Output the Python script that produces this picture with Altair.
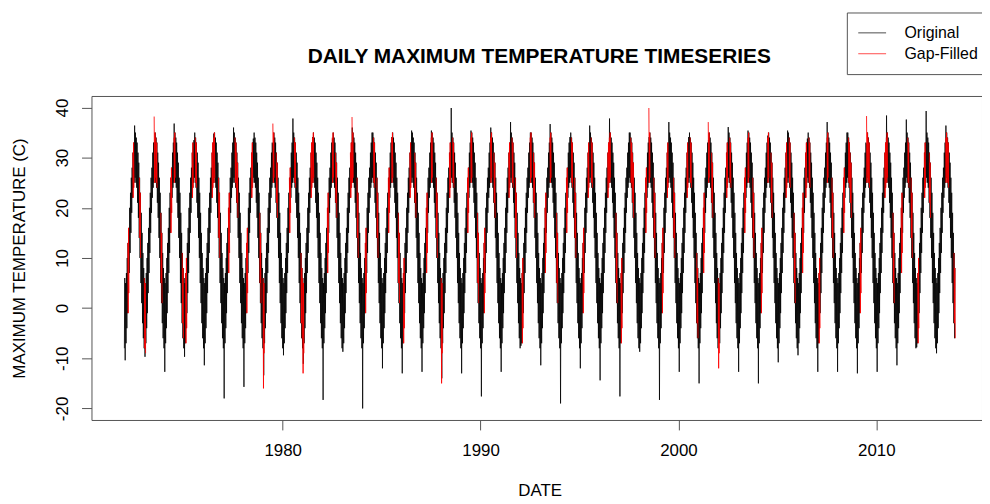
import datetime as dt
import altair as alt
import pandas as pd

TITLE = "DAILY MAXIMUM TEMPERATURE TIMESERIES"
X_TITLE = "DATE"
Y_TITLE = "MAXIMUM TEMPERATURE (C)"
SERIES = ["Original", "Gap-Filled"]
COLORS = ["#000000", "#ff0000"]

YEARS = list(range(1972, 2014))
# summer (July) maximum spike of the original series, per year
PEAK_ORIG = [36.4, 33.1, 36.8, 33.5, 34.8, 36.0, 33.8, 32.8, 37.8, 34.1,
             33.8, 36.0, 35.0, 34.1, 35.4, 35.4, 39.9, 35.4, 36.0, 37.1,
             35.0, 36.7, 34.1, 36.4, 37.8, 35.0, 34.1, 37.1, 34.1, 33.5,
             36.1, 35.4, 34.4, 35.4, 33.8, 37.1, 35.0, 32.8, 38.4, 37.6,
             39.3, 36.4]
# winter (January) minimum spike of the original series, per year
TROUGH_ORIG = [-10.4, -9.7, -12.7, -9.7, -11.4, -18.0, -15.7, -13.4, -9.4, -11.1,
               -18.3, -8.7, -20.0, -12.0, -13.0, -12.7, -14.0, -13.0, -17.6, -12.7,
               -7.5, -11.4, -19.0, -12.0, -14.4, -17.6, -8.7, -18.3, -12.7, -15.0,
               -6.0, -12.7, -15.0, -10.8, -9.4, -12.7, -12.7, -13.0, -12.7, -11.4,
               -7.8, -9.0]
# gap-filled spikes that stand out from the original (None = none visible)
PEAK_FILL = [None, 38.2, None, None, None, None, None, 36.8, None, None,
             None, 38.1, None, None, None, None, None, None, None, None,
             None, None, None, None, None, None, 39.9, None, None, 37.1,
             None, None, None, None, None, None, None, 38.3, None, None,
             None, None]
TROUGH_FILL = [None, None, None, None, None, None, None, -16.0, None, -13.0,
               None, None, None, None, None, None, -15.0, None, None, None,
               None, None, None, None, None, None, None, None, None, None,
               -12.0, None, None, None, None, None, None, None, None, None,
               None, None]
# months (1-12) where the original has gaps and the filled series shows
GAP_MONTHS = [[3, 6, 10], [1, 7, 8, 11], [5, 7, 12], [2, 6, 8], [6, 7, 10],
              [4, 8, 9], [3, 6, 11], [1, 7, 9], [5, 8, 12], [1, 6, 7],
              [4, 7, 9], [6, 7, 10], [3, 8, 10], [5, 7, 11], [2, 6, 9],
              [4, 7, 10], [1, 6, 8], [5, 7, 11], [3, 7, 9], [6, 8, 10],
              [2, 7, 9], [4, 7, 11], [5, 8, 10], [3, 6, 8], [6, 7, 11],
              [2, 8, 9], [5, 7, 10], [3, 6, 10], [6, 8, 12], [4, 7, 9],
              [1, 6, 8], [5, 7, 10], [3, 7, 9], [6, 8, 11], [4, 6, 8],
              [2, 7, 10], [5, 8, 9], [3, 7, 8], [6, 7, 11], [4, 8, 10],
              [2, 6, 9], [7, 8, 12]]
# typical upper / lower daily values in each half-month (Jan 1-15, Jan 16-31, ...)
HALF_HIGH = [6, 5, 7, 10, 13, 16, 20, 23, 26, 28, 31, 33,
             34, 35, 34, 33, 31, 29, 26, 23, 19, 15, 11, 8]
HALF_LOW = [-8, -9, -7, -4, -1, 3, 7, 11, 15, 19, 22, 24,
            25, 26, 25, 24, 21, 18, 14, 10, 5, 1, -3, -6]
DAYS_ORIG = [(1, 8), (16, 23)]
DAYS_FILL = [(4, 12), (19, 27)]
Y_TICKS = [-20, -10, 0, 10, 20, 30, 40]
X_TICK_YEARS = [1980, 1990, 2000, 2010]

FONT = "Liberation Sans, Arial, sans-serif"

orig_rows = []
fill_rows = []
for yi, yr in enumerate(YEARS):
    for h in range(24):
        m, half = divmod(h, 2)
        d_lo, d_hi = DAYS_ORIG[half]
        lo, hi = HALF_LOW[h], HALF_HIGH[h]
        if h == 1:
            lo = TROUGH_ORIG[yi]
        if h == 12:
            hi = PEAK_ORIG[yi]
        orig_rows.append({"date": dt.datetime(yr, m + 1, d_lo), "temp": lo,
                          "series": SERIES[0]})
        orig_rows.append({"date": dt.datetime(yr, m + 1, d_hi), "temp": hi,
                          "series": SERIES[0]})
    for gm in GAP_MONTHS[yi]:
        for half in range(2):
            h = 2 * (gm - 1) + half
            d_hi, d_lo = DAYS_FILL[half]
            lo, hi = HALF_LOW[h], HALF_HIGH[h]
            if h == 0 and TROUGH_FILL[yi] is not None:
                lo = TROUGH_FILL[yi]
            if h == 12 and PEAK_FILL[yi] is not None:
                hi = PEAK_FILL[yi]
            fill_rows.append({"date": dt.datetime(yr, gm, d_hi), "temp": hi,
                              "series": SERIES[1], "seg": f"{yr}-{gm}"})
            fill_rows.append({"date": dt.datetime(yr, gm, d_lo), "temp": lo,
                              "series": SERIES[1], "seg": f"{yr}-{gm}"})

orig_df = pd.DataFrame(orig_rows)
fill_df = pd.DataFrame(fill_rows)

x_scale = alt.Scale(domain=[alt.DateTime(year=1970, month=5, date=4),
                            alt.DateTime(year=2015, month=5, date=5)],
                    nice=False)
y_scale = alt.Scale(domain=[-22.3, 42.3], nice=False, zero=False)
color_scale = alt.Scale(domain=SERIES, range=COLORS)

x_enc = alt.X("date:T", scale=x_scale, title=X_TITLE,
              axis=alt.Axis(values=[alt.DateTime(year=y, month=1, date=1)
                                    for y in X_TICK_YEARS],
                            format="%Y", labelPadding=13, titleX=451,
                            titleY=76, titleBaseline="alphabetic"))
y_enc = alt.Y("temp:Q", scale=y_scale, title=Y_TITLE,
              axis=alt.Axis(values=Y_TICKS,
                            labelExpr="datum.value < 0 ? '-' + abs(datum.value) : '' + datum.value",
                            labelAngle=270, labelPadding=10,
                            titleAngle=270, titleBaseline="middle",
                            titleAlign="center", titleX=-72, titleY=163))
legend = alt.Legend(orient="none", legendX=760, legendY=-84, title=None,
                    symbolType="stroke", symbolSize=784, symbolStrokeWidth=1,
                    symbolOpacity=0.7, labelFontSize=16, labelFont=FONT,
                    labelColor="#000", labelOffset=18, padding=11,
                    clipHeight=19, rowPadding=2, strokeColor="#555",
                    fillColor="white")

orig_layer = alt.Chart(orig_df).mark_line(strokeWidth=0.8).encode(
    x=x_enc, y=y_enc,
    color=alt.Color("series:N", scale=color_scale, legend=legend),
)
fill_layer = alt.Chart(fill_df).mark_line(strokeWidth=0.9, opacity=0.95).encode(
    x=x_enc, y=y_enc,
    color=alt.Color("series:N", scale=color_scale, legend=legend),
    detail="seg:N",
)
title_layer = alt.Chart(pd.DataFrame({"t": [TITLE]})).mark_text(
    font=FONT, fontSize=21, fontWeight="bold", color="#000",
    align="center", baseline="alphabetic",
).encode(text="t:N", x=alt.value(450.5), y=alt.value(-33))

chart = alt.layer(orig_layer, fill_layer, title_layer).properties(
    width=896, height=326,
    padding={"left": 84, "top": 87, "right": 0, "bottom": 80},
    autosize=alt.AutoSizeParams(type="none"),
).configure_view(
    stroke="#555", strokeWidth=1
).configure_axis(
    domain=False, grid=False, tickColor="#555", tickSize=10,
    labelFont=FONT, titleFont=FONT, labelFontSize=17, titleFontSize=17,
    labelColor="#000", titleColor="#000", titleFontWeight="normal",
)

chart.save("out.html", embed_options={"renderer": "svg", "actions": False})
